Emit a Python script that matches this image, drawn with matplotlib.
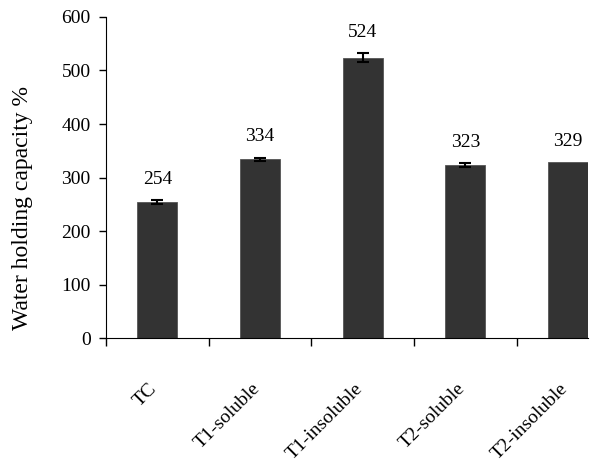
import matplotlib.pyplot as plt
import numpy as np

# data
categories = ['TC', 'T1-soluble', 'T1-insoluble', 'T2-soluble', 'T2-insoluble']
values = [254, 334, 524, 323, 329]
errors = [4, 3, 8, 4, 0]
labels = ['254', '334', '524', '323', '329']

plt.rcParams['font.family'] = ['Liberation Serif', 'DejaVu Serif']

fig = plt.figure(figsize=(6.02, 4.71), dpi=100)
ax = fig.add_axes([0.176, 0.282, 0.801, 0.682])

x = np.arange(len(categories))
ax.bar(x, values, width=0.39, color='#333333', edgecolor='#555555', linewidth=0.6)
for xi, v, e in zip(x, values, errors):
    if e > 0:
        ax.errorbar(xi, v, yerr=e, fmt='none', ecolor='black', elinewidth=1.5,
                    capsize=4, capthick=1.5)

for xi, v, e, lab in zip(x, values, errors, labels):
    ax.annotate(lab, (xi, v + e), xytext=(0, 9), textcoords='offset points',
                ha='center', va='bottom', fontsize=14)

ax.set_ylim(0, 600)
ax.set_xlim(-0.5, 4.195)
ax.set_yticks(range(0, 601, 100))
ax.set_ylabel('Water holding capacity %', fontsize=17)
ax.yaxis.set_label_coords(-0.151, 0.405)

ax.set_xticks(x + 0.03)
ax.set_xticklabels(categories, rotation=45, ha='right', fontsize=14)
ax.tick_params(axis='x', which='major', length=0, pad=30)
ax.set_xticks([-0.5, 0.5, 1.5, 2.5, 3.5], minor=True)
ax.tick_params(axis='x', which='minor', length=6, direction='out', width=1)
ax.tick_params(axis='y', length=5, direction='out', width=1, labelsize=14, pad=6)

ax.spines['top'].set_visible(False)
ax.spines['right'].set_visible(False)

fig.savefig('out.png', dpi=100)
